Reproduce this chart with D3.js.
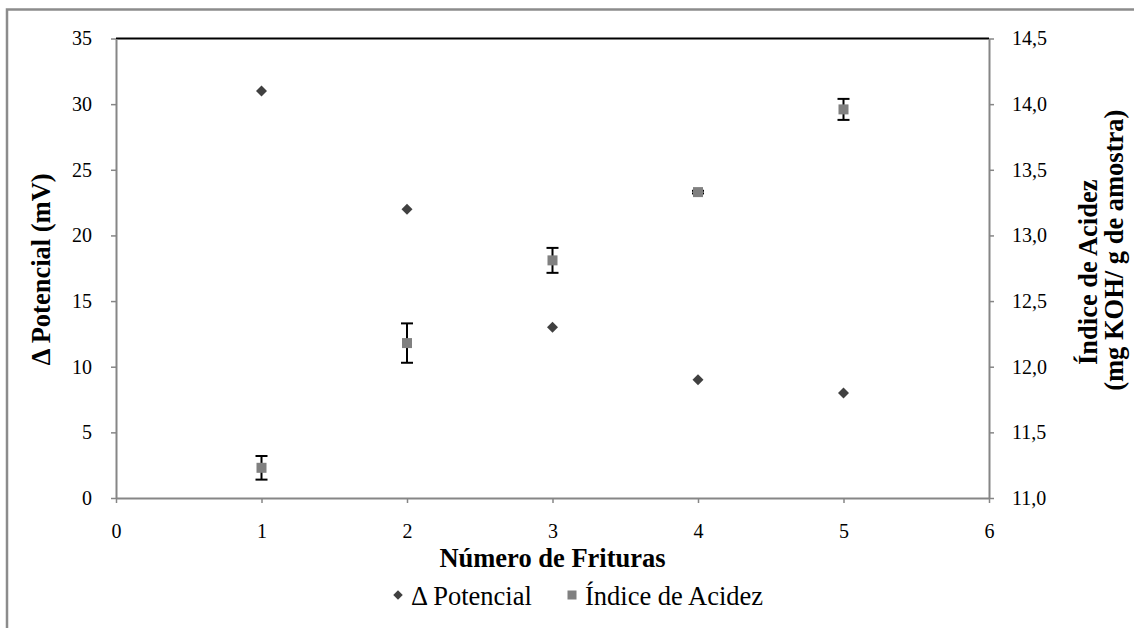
<!DOCTYPE html>
<html>
<head>
<meta charset="utf-8">
<script src="https://cdn.jsdelivr.net/npm/d3@7"></script>
</head>
<body style="margin:0;background:#fff">
<svg id="chart" width="1134" height="628"></svg>
<script>
// Number of fryings (x) and the two measured series
const frituras = [1, 2, 3, 4, 5];
const deltaPotencial = [31, 22, 13, 9, 8];
const indiceAcidez = [11.23, 12.18, 12.81, 13.33, 13.96];
const indiceAcidezErro = [0.09, 0.15, 0.095, 0.01, 0.08];

const xTicks = [0, 1, 2, 3, 4, 5, 6];
const leftTicks = [0, 5, 10, 15, 20, 25, 30, 35];
const rightTicks = [11.0, 11.5, 12.0, 12.5, 13.0, 13.5, 14.0, 14.5];

const FONT = '"Liberation Serif"';
const TICK_SIZE = 20;
const TITLE_SIZE = 26.5;

const svg = d3.select("#chart");
const m = { left: 116, right: 989, top: 38.5, bottom: 498 };
const midY = (m.top + m.bottom) / 2;

// Serif text helper
function txt(sel, size, bold) {
  return sel.style("font-family", FONT)
    .style("font-size", size + "px")
    .style("font-weight", bold ? "bold" : "normal")
    .style("fill", "#000");
}

// Outer chart frame
svg.append("rect")
  .attr("x", 7).attr("y", 9.5)
  .attr("width", 1140).attr("height", 640)
  .attr("fill", "none").attr("stroke", "#8c8c8c").attr("stroke-width", 2.5);

const x = d3.scaleLinear().domain([0, 6]).range([m.left, m.right]);
const yL = d3.scaleLinear().domain([0, 35]).range([m.bottom, m.top]);
const yR = d3.scaleLinear().domain([11, 14.5]).range([m.bottom, m.top]);

const fmtComma = d => d3.format(".1f")(d).replace(".", ",");

// Top border of plot area
svg.append("line")
  .attr("x1", m.left).attr("x2", m.right)
  .attr("y1", m.top).attr("y2", m.top)
  .attr("stroke", "#000").attr("stroke-width", 2);

function styleAxis(g) {
  g.attr("font-family", null).attr("font-size", null);
  g.selectAll("path.domain").attr("stroke", "#868686").attr("stroke-width", 2);
  g.selectAll(".tick line").attr("stroke", "#868686").attr("stroke-width", 1.5);
  txt(g.selectAll(".tick text"), TICK_SIZE, false);
}

svg.append("g")
  .attr("transform", `translate(0,${m.bottom})`)
  .call(d3.axisBottom(x).tickValues(xTicks).tickSize(5).tickSizeOuter(0).tickPadding(21).tickFormat(d3.format("d")))
  .call(styleAxis);

svg.append("g")
  .attr("transform", `translate(${m.left},0)`)
  .call(d3.axisLeft(yL).tickValues(leftTicks).tickSize(5).tickSizeOuter(0).tickPadding(19).tickFormat(d3.format("d")))
  .call(styleAxis);

svg.append("g")
  .attr("transform", `translate(${m.right},0)`)
  .call(d3.axisRight(yR).tickValues(rightTicks).tickSize(5).tickSizeOuter(0).tickPadding(18).tickFormat(fmtComma))
  .call(styleAxis);

// Error bars for acidity index
const eb = svg.append("g");
frituras.forEach((f, i) => {
  const cx = x(f);
  const y1 = yR(indiceAcidez[i] + indiceAcidezErro[i]);
  const y2 = yR(indiceAcidez[i] - indiceAcidezErro[i]);
  eb.append("line").attr("x1", cx).attr("x2", cx).attr("y1", y1).attr("y2", y2)
    .attr("stroke", "#000").attr("stroke-width", 2);
  [y1, y2].forEach(yy => eb.append("line")
    .attr("x1", cx - 6).attr("x2", cx + 6).attr("y1", yy).attr("y2", yy)
    .attr("stroke", "#000").attr("stroke-width", 2));
});

// Acidity index squares
svg.append("g").selectAll("rect")
  .data(frituras)
  .join("rect")
  .attr("x", (d) => x(d) - 5)
  .attr("y", (d, i) => yR(indiceAcidez[i]) - 5)
  .attr("width", 10).attr("height", 10)
  .attr("fill", "#808080");

// Potential difference diamonds
const diamond = d3.symbol().type(d3.symbolSquare).size(60);
svg.append("g").selectAll("path")
  .data(frituras)
  .join("path")
  .attr("d", diamond)
  .attr("transform", (d, i) => `translate(${x(d)},${yL(deltaPotencial[i])}) rotate(45)`)
  .attr("fill", "#404040");

// Axis titles
txt(svg.append("text")
  .attr("x", x(3)).attr("y", 567)
  .attr("text-anchor", "middle"), TITLE_SIZE, true)
  .text("Número de Frituras");

txt(svg.append("text")
  .attr("transform", `translate(50,${midY + 1}) rotate(-90)`)
  .attr("text-anchor", "middle"), TITLE_SIZE, true)
  .text("Δ Potencial (mV)");

txt(svg.append("text")
  .attr("transform", `translate(1097,${midY + 4}) rotate(-90)`)
  .attr("text-anchor", "middle"), TITLE_SIZE, true)
  .text("Índice de Acidez");

txt(svg.append("text")
  .attr("transform", `translate(1123,${midY - 18}) rotate(-90)`)
  .attr("text-anchor", "middle"), TITLE_SIZE, true)
  .text("(mg KOH/ g de amostra)");

// Legend
const leg = svg.append("g");
leg.append("path")
  .attr("d", d3.symbol().type(d3.symbolSquare).size(45))
  .attr("transform", "translate(398,595) rotate(45)")
  .attr("fill", "#404040");
txt(leg.append("text").attr("x", 411).attr("y", 605), TITLE_SIZE, false).text("Δ Potencial");
leg.append("rect").attr("x", 567.5).attr("y", 590.5).attr("width", 9).attr("height", 9).attr("fill", "#808080");
txt(leg.append("text").attr("x", 585).attr("y", 605), TITLE_SIZE, false).text("Índice de Acidez");
</script>
</body>
</html>
